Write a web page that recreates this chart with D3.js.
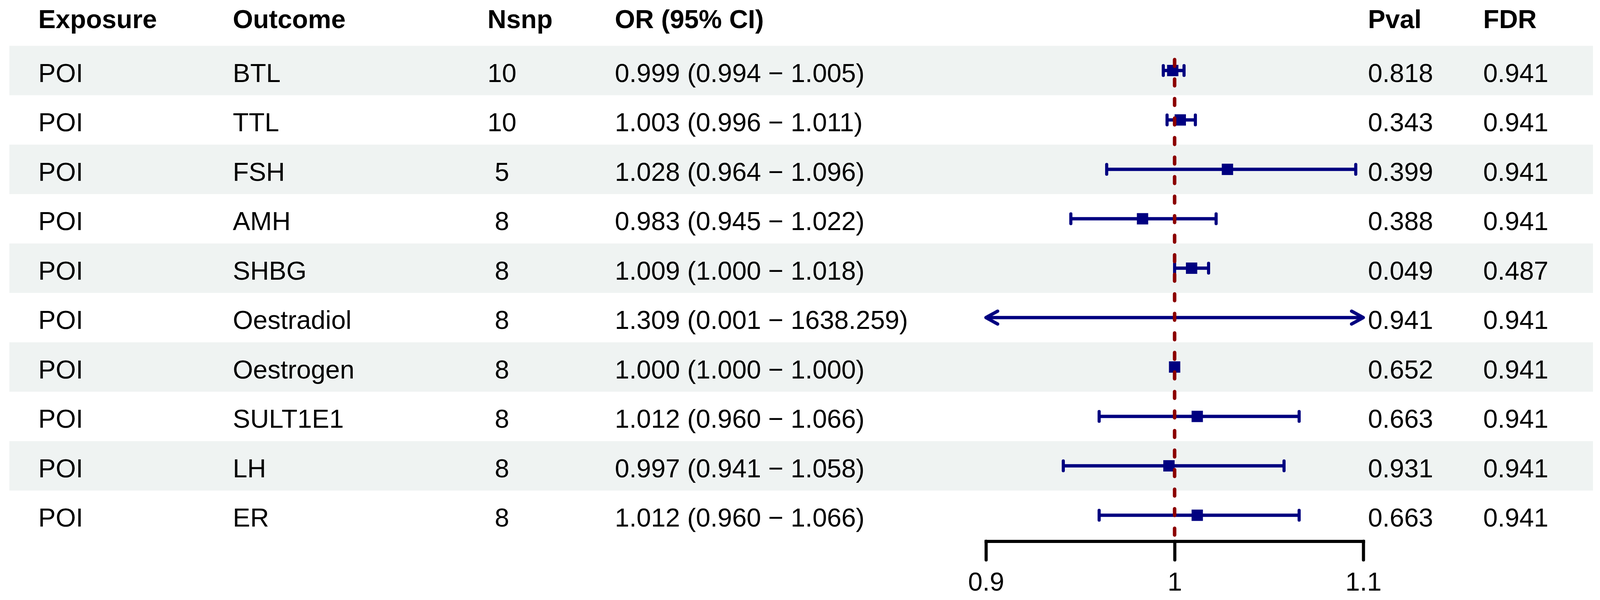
<!DOCTYPE html>
<html>
<head>
<meta charset="utf-8">
<title>POI forest plot</title>
<script src="https://cdn.jsdelivr.net/npm/d3@7"></script>
<style>
  body { margin: 0; background: #fff; }
  text { font-family: "Liberation Sans", Arial, Helvetica, sans-serif; font-size: 66.67px; fill: #000; white-space: pre; }
  .hdr { font-weight: bold; }
</style>
</head>
<body>
<div id="chart"></div>
<script>
// table data
var exposure = ["POI", "POI", "POI", "POI", "POI", "POI", "POI", "POI", "POI", "POI"];
var outcomes = ["BTL", "TTL", "FSH", "AMH", "SHBG", "Oestradiol", "Oestrogen", "SULT1E1", "LH", "ER"];
var nsnp = [10, 10, 5, 8, 8, 8, 8, 8, 8, 8];
var orVal = [0.999, 1.003, 1.028, 0.983, 1.009, 1.309, 1.000, 1.012, 0.997, 1.012];
var lower = [0.994, 0.996, 0.964, 0.945, 1.000, 0.001, 1.000, 0.960, 0.941, 0.960];
var upper = [1.005, 1.011, 1.096, 1.022, 1.018, 1638.259, 1.000, 1.066, 1.058, 1.066];
var pval = ["0.818", "0.343", "0.399", "0.388", "0.049", "0.941", "0.652", "0.663", "0.931", "0.663"];
var fdr = ["0.941", "0.941", "0.941", "0.941", "0.487", "0.941", "0.941", "0.941", "0.941", "0.941"];
var headers = ["Exposure", "Outcome", "Nsnp", "OR (95% CI)", "Pval", "FDR"];
var xTicks = [0.9, 1, 1.1];

var width = 4102, height = 1536;
var colX = [98, 596, 1248, 1574, 3502, 3797];   // left edge of each text column
var bandLeft = 24, bandRight = 4078;
var navy = "#000080", refRed = "#8B0000";

var svg = d3.select("#chart").append("svg")
    .attr("width", width)
    .attr("height", height);

// rows
var y = d3.scaleBand()
    .domain(d3.range(outcomes.length))
    .range([117.3, 117.3 + 126.5 * outcomes.length]);

// forest x scale (linear, 0.9 - 1.1)
var x = d3.scaleLinear().domain([0.9, 1.1]).range([2524, 3490]);
var lo = x.domain()[0], hi = x.domain()[1];

// zebra background
svg.selectAll("rect.band")
    .data(d3.range(outcomes.length).filter(function(i) { return i % 2 === 0; }))
    .enter().append("rect")
    .attr("class", "band")
    .attr("x", bandLeft)
    .attr("y", function(i) { return y(i); })
    .attr("width", bandRight - bandLeft)
    .attr("height", y.bandwidth())
    .attr("fill", "#eff3f2");

// header
svg.selectAll("text.hdr")
    .data(headers)
    .enter().append("text")
    .attr("class", "hdr")
    .attr("x", function(d, i) { return colX[i]; })
    .attr("y", 72)
    .text(function(d) { return d; });

// body text
var fmt = d3.format(".3f");
var rows = d3.range(outcomes.length).map(function(i) {
    return [
        exposure[i],
        outcomes[i],
        String(nsnp[i]).padStart(2, " "),
        fmt(orVal[i]) + " (" + fmt(lower[i]) + " \u2212 " + fmt(upper[i]) + ")",
        pval[i],
        fdr[i]
    ];
});

var rowG = svg.selectAll("g.row")
    .data(rows)
    .enter().append("g")
    .attr("class", "row")
    .attr("transform", function(d, i) { return "translate(0," + (y(i) + y.bandwidth() / 2 + 29) + ")"; });

rowG.selectAll("text")
    .data(function(d) { return d; })
    .enter().append("text")
    .attr("x", function(d, j) { return colX[j]; })
    .text(function(d) { return d; });

// confidence intervals
var ci = svg.append("g").attr("class", "ci");
var capH = 12.5, arrW = 30, arrH = 16.5;

d3.range(outcomes.length).forEach(function(i) {
    var cy = y(i) + y.bandwidth() / 2;
    var l = Math.max(lower[i], lo), u = Math.min(upper[i], hi);
    ci.append("line")
        .attr("x1", x(l)).attr("x2", x(u))
        .attr("y1", cy).attr("y2", cy)
        .attr("stroke", navy).attr("stroke-width", 8.5);

    // left end: cap or arrow
    if (lower[i] < lo) {
        ci.append("path")
            .attr("d", "M" + (x(lo) + arrW) + "," + (cy - arrH) + "L" + x(lo) + "," + cy + "L" + (x(lo) + arrW) + "," + (cy + arrH))
            .attr("fill", "none").attr("stroke", navy).attr("stroke-width", 8.5)
            .attr("stroke-linecap", "round").attr("stroke-linejoin", "round");
    } else if (upper[i] > lower[i]) {
        ci.append("line")
            .attr("x1", x(l)).attr("x2", x(l))
            .attr("y1", cy - capH).attr("y2", cy + capH)
            .attr("stroke", navy).attr("stroke-width", 8).attr("stroke-linecap", "round");
    }
    // right end
    if (upper[i] > hi) {
        ci.append("path")
            .attr("d", "M" + (x(hi) - arrW) + "," + (cy - arrH) + "L" + x(hi) + "," + cy + "L" + (x(hi) - arrW) + "," + (cy + arrH))
            .attr("fill", "none").attr("stroke", navy).attr("stroke-width", 8.5)
            .attr("stroke-linecap", "round").attr("stroke-linejoin", "round");
    } else if (upper[i] > lower[i]) {
        ci.append("line")
            .attr("x1", x(u)).attr("x2", x(u))
            .attr("y1", cy - capH).attr("y2", cy + capH)
            .attr("stroke", navy).attr("stroke-width", 8).attr("stroke-linecap", "round");
    }
    // point estimate (only if inside the axis range)
    if (orVal[i] >= lo && orVal[i] <= hi) {
        ci.append("rect")
            .attr("x", x(orVal[i]) - 14.5)
            .attr("y", cy - 14.5)
            .attr("width", 29).attr("height", 29)
            .attr("fill", navy);
    }
});

// reference line at 1
svg.append("line")
    .attr("x1", x(1)).attr("x2", x(1))
    .attr("y1", 152.5).attr("y2", 1383)
    .attr("stroke", refRed)
    .attr("stroke-width", 9)
    .attr("stroke-linecap", "round")
    .attr("stroke-dasharray", "17,33");

// x axis
var axisY = 1385.5;
var axis = d3.axisBottom(x)
    .tickValues(xTicks)
    .tickFormat(d3.format("~g"))
    .tickSizeInner(48)
    .tickSizeOuter(0)
    .tickPadding(31);

var ax = svg.append("g")
    .attr("transform", "translate(0," + axisY + ")")
    .call(axis);

ax.select(".domain")
    .attr("stroke", "#000")
    .attr("stroke-width", 8)
    .attr("stroke-linecap", "square");
ax.selectAll(".tick line")
    .attr("stroke", "#000")
    .attr("stroke-width", 8)
    .attr("stroke-linecap", "round");
ax.selectAll(".tick text")
    .attr("font-family", null)
    .attr("font-size", null)
    .attr("fill", "#000")
    .style("font-size", "66.67px");
</script>
</body>
</html>
